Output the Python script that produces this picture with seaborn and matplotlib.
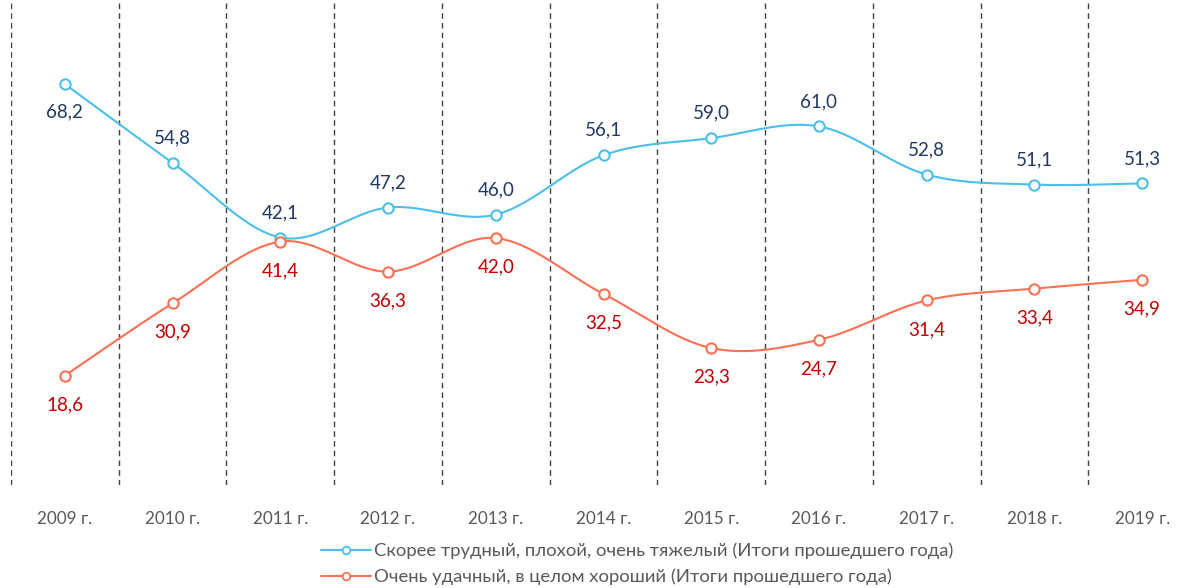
import numpy as np
import matplotlib.pyplot as plt
from matplotlib.lines import Line2D
import seaborn as sns

years = ["2009 г.", "2010 г.", "2011 г.", "2012 г.", "2013 г.", "2014 г.",
         "2015 г.", "2016 г.", "2017 г.", "2018 г.", "2019 г."]
bad = [68.2, 54.8, 42.1, 47.2, 46.0, 56.1, 59.0, 61.0, 52.8, 51.1, 51.3]
good = [18.6, 30.9, 41.4, 36.3, 42.0, 32.5, 23.3, 24.7, 31.4, 33.4, 34.9]
bad_name = "Скорее трудный, плохой, очень тяжелый (Итоги прошедшего года)"
good_name = "Очень удачный, в целом хороший (Итоги прошедшего года)"

BLUE = "#4BBFE8"
ORANGE = "#FA7052"
BLUE_TXT = "#203864"
RED_TXT = "#C00000"


def smooth(xv, yv, n=30):
    # excel-like smoothed line (catmull-rom through the points)
    p = np.column_stack([xv, yv]).astype(float)
    p = np.vstack([p[0], p, p[-1]])
    out = []
    t = np.linspace(0, 1, n)[:, None]
    for i in range(1, len(p) - 2):
        p0, p1, p2, p3 = p[i - 1], p[i], p[i + 1], p[i + 2]
        c1 = p1 + (p2 - p0) / 6
        c2 = p2 - (p3 - p1) / 6
        seg = ((1 - t) ** 3) * p1 + 3 * ((1 - t) ** 2) * t * c1 + 3 * (1 - t) * t ** 2 * c2 + t ** 3 * p2
        out.append(seg if i == 1 else seg[1:])
    out = np.vstack(out)
    return out[:, 0], out[:, 1]


sns.set_style("white")
plt.rcParams["font.family"] = ["Lato", "DejaVu Sans"]

fig = plt.figure(figsize=(11.96, 5.88), dpi=100)
ax = fig.add_axes([11 / 1196, 103 / 588, 1185 / 1196, 485 / 588])

pos = np.arange(len(years))

for b in np.arange(-0.5, len(years) - 1, 1.0):
    ax.axvline(b, color="#404040", lw=1, ls=(0, (4, 3)), zorder=1)

for vals, col in [(bad, BLUE), (good, ORANGE)]:
    sx, sy = smooth(pos, vals)
    sns.lineplot(x=sx, y=sy, color=col, lw=1.5, ax=ax, sort=False, zorder=2)
    sns.scatterplot(x=pos, y=vals, marker="o", s=55, facecolor="white",
                    edgecolor=col, linewidth=1.5, ax=ax, zorder=3)

for i, v in enumerate(bad):
    dy = -28 if i == 0 else 25
    ax.annotate(f"{v:.1f}".replace(".", ","), (i, v), xytext=(0, dy), textcoords="offset pixels",
                ha="center", va="center", fontsize=13.5, color=BLUE_TXT)
for i, v in enumerate(good):
    ax.annotate(f"{v:.1f}".replace(".", ","), (i, v), xytext=(0, -29), textcoords="offset pixels",
                ha="center", va="center", fontsize=13.5, color=RED_TXT)

ax.set_xlim(-0.5, 10.5)
ax.set_ylim(0, 82.5)
ax.set_xticks(pos)
ax.set_xticklabels(years, fontsize=12.3, color="#595959")
ax.set_yticks([])
ax.tick_params(axis="x", length=0, pad=19)
for s in ax.spines.values():
    s.set_visible(False)

handles = [
    Line2D([], [], color=BLUE, lw=1.5, marker="o", markersize=5.5, markerfacecolor="white", markeredgewidth=1.3),
    Line2D([], [], color=ORANGE, lw=1.5, marker="o", markersize=5.5, markerfacecolor="white", markeredgewidth=1.3),
]
fig.legend(handles, [bad_name, good_name], loc="center", bbox_to_anchor=(0.533, 0.041),
           frameon=False, fontsize=13.3, labelcolor="#595959", handlelength=2.7,
           handletextpad=0.15, labelspacing=0.5, ncol=1, borderpad=0.2)

fig.savefig("out.png", dpi=100)
